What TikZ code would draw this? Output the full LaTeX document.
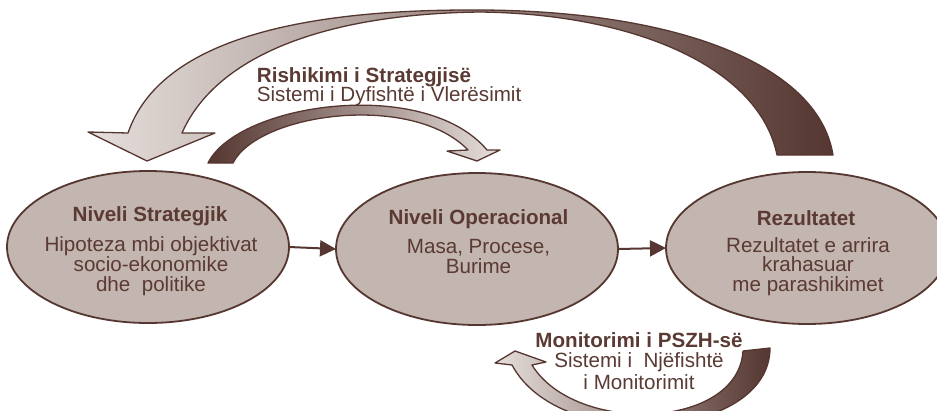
\documentclass[tikz,border=0pt]{standalone}
\usepackage{fontspec}
\setmainfont{Liberation Sans}
\usetikzlibrary{shapes.geometric,arrows.meta}
\definecolor{dk}{HTML}{553630}
\definecolor{tx}{HTML}{5A3A33}
\definecolor{ef}{HTML}{C3B5AF}
\definecolor{lt}{HTML}{E6DFDC}
\definecolor{md}{HTML}{8C766F}
\tikzset{
 lvl/.style={ellipse, draw=dk, line width=1.8pt, fill=ef, minimum width=282pt, minimum height=152pt, inner sep=0pt, outer sep=0pt},
 txt/.style={text=tx, font=\fontsize{20.6}{20}\selectfont, anchor=base, inner sep=0pt},
 ttl/.style={text=tx, font=\fontsize{20.6}{20}\selectfont\bfseries, anchor=base, inner sep=0pt},
 flow/.style={draw=dk, line width=2pt, -{Triangle[length=16pt,width=16pt]}},
 band/.style={draw=dk, line width=1.3pt, line join=round},
}
\begin{document}
\begin{tikzpicture}[x=1pt,y=-1pt]
\useasboundingbox (0,0) rectangle (937,410);
\clip (0,0) rectangle (937,410);
% big arrow: Rezultatet -> Niveli Strategjik
\path[band, left color=lt, middle color=md, right color=dk]
 (833,155) .. controls (818,62) and (670,9) .. (470,10)
 .. controls (300,10) and (160,40) .. (128,133)
 -- (88,132) -- (147,161) -- (215,133) -- (182,133)
 .. controls (215,58) and (320,14) .. (480,12)
 .. controls (640,14) and (760,70) .. (777,155) -- cycle;
% middle arrow: Niveli Strategjik -> Niveli Operacional
\path[band, left color=dk, middle color=dk!75!lt, right color=lt]
 (208,163) .. controls (238,103) and (425,76) .. (487,150)
 -- (500,150) -- (477,161) -- (447,151) -- (468,150)
 .. controls (412,92) and (258,113) .. (233,163) -- cycle;
% bottom arrow
\path[band, left color=lt, middle color=md, right color=dk]
 (770,348) .. controls (770,440) and (560,455) .. (512,365)
 -- (495,363) -- (515,351) -- (546,362) -- (532,365)
 .. controls (575,435) and (738,430) .. (743,351) -- cycle;
% levels
\node[lvl] (L) at (148,247) {};
\node[lvl] (M) at (477,249) {};
\node[lvl] (R) at (807,248) {};
\draw[flow] (L.east) -- (M.west);
\draw[flow] (M.east) -- (R.west);
% texts
\node[ttl] (l0) at (150,221) {Niveli Strategjik};
\node[txt] (l1) at (151,251.7) {Hipoteza mbi objektivat};
\node[txt] (l2) at (151,271.7) {socio-ekonomike};
\node[txt] (l3) at (151,291.7) {dhe\ \ politike};
\node[ttl] (m0) at (478.5,224) {Niveli Operacional};
\node[txt] (m1) at (478.5,253) {Masa, Procese,};
\node[txt] (m2) at (478.5,273) {Burime};
\node[ttl] (r0) at (806,225) {Rezultatet};
\node[txt] (r1) at (808,252.7) {Rezultatet e arrira};
\node[txt] (r2) at (808,271.7) {krahasuar};
\node[txt] (r3) at (808,291.7) {me parashikimet};
\node[ttl, anchor=base west] (s0) at (256.7,82.7) {Rishikimi i Strategjisë};
\node[txt, anchor=base west] (s1) at (256.7,101.7) {Sistemi i Dyfishtë i Vlerësimit};
\node[ttl] (p0) at (639,347.3) {Monitorimi i PSZH-së};
\node[txt] (p1) at (639,367.7) {Sistemi i\ \ Njëfishtë};
\node[txt] (p2) at (639,389.3) {i Monitorimit};
\end{tikzpicture}
\end{document}
